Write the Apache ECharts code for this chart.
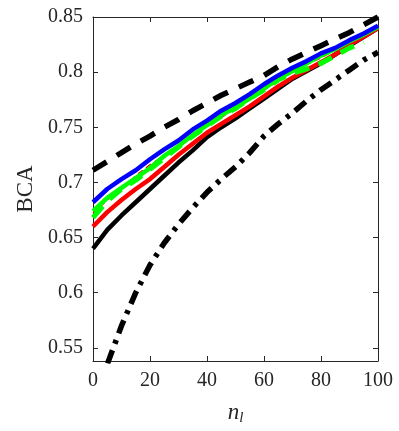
<!DOCTYPE html>
<html>
<head>
<meta charset="utf-8">
<script src="https://cdn.jsdelivr.net/npm/echarts@6/dist/echarts.min.js"></script>
<style>
  html, body { margin: 0; padding: 0; background: #fff; }
  #chart { width: 399px; height: 431px; }
</style>
</head>
<body>
<div id="chart"></div>
<script>
// n_l values
const nl = [0, 5, 10, 15, 20, 25, 30, 35, 40, 45, 50, 55, 60, 65, 70, 75, 80, 85, 90, 95, 100]
const yTicks = [0.55, 0.6, 0.65, 0.7, 0.75, 0.8, 0.85]
const xTicks = [0, 20, 40, 60, 80, 100]

// BCA curves
const blackDashed = [0.711, 0.719, 0.727, 0.735, 0.742, 0.750, 0.757, 0.765, 0.772, 0.779, 0.785, 0.791, 0.797, 0.805, 0.812, 0.818, 0.824, 0.830, 0.836, 0.843, 0.850]
const blueSolid = [0.682, 0.694, 0.703, 0.711, 0.721, 0.730, 0.738, 0.748, 0.756, 0.765, 0.772, 0.780, 0.789, 0.797, 0.804, 0.810, 0.817, 0.822, 0.829, 0.835, 0.842]
const greenSolid = [0.674, 0.686, 0.695, 0.704, 0.713, 0.724, 0.733, 0.743, 0.752, 0.761, 0.768, 0.776, 0.785, 0.794, 0.801, 0.808, 0.815, 0.821, 0.828, 0.834, 0.841]
const greenDashed = [0.668, 0.683, 0.694, 0.702, 0.712, 0.722, 0.732, 0.742, 0.751, 0.760, 0.767, 0.776, 0.784, 0.793, 0.799, 0.803, 0.808, 0.815, 0.822, 0.827]
const redDashed = [0.672, 0.684, 0.693, 0.706, 0.716, 0.724, 0.733, 0.742, 0.751, 0.759, 0.767, 0.775, 0.784, 0.792, 0.800, 0.807, 0.813, 0.820, 0.827, 0.833, 0.840]
const redSolid = [0.660, 0.673, 0.684, 0.694, 0.703, 0.714, 0.725, 0.735, 0.745, 0.753, 0.761, 0.769, 0.778, 0.787, 0.795, 0.802, 0.809, 0.816, 0.825, 0.832, 0.840]
const blackSolid = [0.640, 0.657, 0.670, 0.682, 0.694, 0.706, 0.718, 0.729, 0.741, 0.750, 0.758, 0.767, 0.776, 0.785, 0.794, 0.801, 0.808, 0.816, 0.824, 0.832, 0.840]
const blackDashDot = [0.510, 0.535, 0.570, 0.600, 0.625, 0.645, 0.662, 0.677, 0.691, 0.703, 0.714, 0.727, 0.742, 0.753, 0.763, 0.774, 0.784, 0.793, 0.802, 0.811, 0.818]

const pairs = ys => ys.map((v, i) => [nl[i], v])

const axisColor = '#262626'
const font = 'Liberation Serif'

function line(name, data, color, width, type) {
    return {
        name: name,
        type: 'line',
        data: pairs(data),
        symbol: 'none',
        smooth: false,
        lineStyle: { color: color, width: width, type: type, cap: 'butt', join: 'round' },
        silent: true,
        animation: false
    }
}

const chart = echarts.init(document.getElementById('chart'))
const option = {
    animation: false,
    grid: { left: 93, right: 21, top: 17, bottom: 70, outerBoundsMode: 'none', containLabel: false },
    xAxis: [
        {
            type: 'value', min: 0, max: 100, interval: 20,
            position: 'bottom',
            name: '{n|n}{s|l}',
            nameLocation: 'middle',
            nameGap: 38,
            nameTextStyle: {
                rich: {
                    n: { fontFamily: font, fontStyle: 'italic', fontSize: 23, color: axisColor },
                    s: { fontFamily: font, fontStyle: 'italic', fontSize: 15, color: axisColor, padding: [12, 0, 0, 0] }
                }
            },
            axisLine: { show: true, onZero: false, lineStyle: { color: axisColor, width: 1 } },
            axisTick: { inside: true, length: 5, lineStyle: { color: axisColor } },
            axisLabel: { fontFamily: font, fontSize: 20, color: axisColor, margin: 10 },
            splitLine: { show: false }
        },
        {
            type: 'value', min: 0, max: 100, interval: 20,
            position: 'top',
            axisLine: { show: true, onZero: false, lineStyle: { color: axisColor, width: 1 } },
            axisTick: { inside: true, length: 5, lineStyle: { color: axisColor } },
            axisLabel: { show: false },
            splitLine: { show: false }
        }
    ],
    yAxis: [
        {
            type: 'value', min: 0.538, max: 0.85,
            position: 'left',
            name: 'BCA',
            nameLocation: 'middle',
            nameGap: 50,
            nameTextStyle: { fontFamily: font, fontSize: 23, color: axisColor },
            axisLine: { show: true, onZero: false, lineStyle: { color: axisColor, width: 1 } },
            axisTick: { inside: true, length: 5, lineStyle: { color: axisColor }, customValues: yTicks },
            axisLabel: { fontFamily: font, fontSize: 20, color: axisColor, margin: 10, customValues: yTicks, formatter: v => String(+v.toFixed(2)) },
            splitLine: { show: false }
        },
        {
            type: 'value', min: 0.538, max: 0.85,
            position: 'right',
            axisLine: { show: true, onZero: false, lineStyle: { color: axisColor, width: 1 } },
            axisTick: { inside: true, length: 5, lineStyle: { color: axisColor }, customValues: yTicks },
            axisLabel: { show: false, customValues: yTicks },
            splitLine: { show: false }
        }
    ],
    series: [
        line('dashdot', blackDashDot, '#000000', 5.5, [14, 7, 4, 7]),
        line('black', blackSolid, '#000000', 4.5, 'solid'),
        line('red', redSolid, '#ff0000', 4.5, 'solid'),
        line('red dashed', redDashed, '#ff0000', 1.5, [6, 4]),
        line('green', greenSolid, '#00ff00', 4.5, 'solid'),
        line('green dashed', greenDashed, '#00ff00', 5, [15, 10]),
        line('blue', blueSolid, '#0000ff', 4.5, 'solid'),
        line('black dashed', blackDashed, '#000000', 5.5, [16, 12])
    ]
}
option && chart.setOption(option)
</script>
</body>
</html>
